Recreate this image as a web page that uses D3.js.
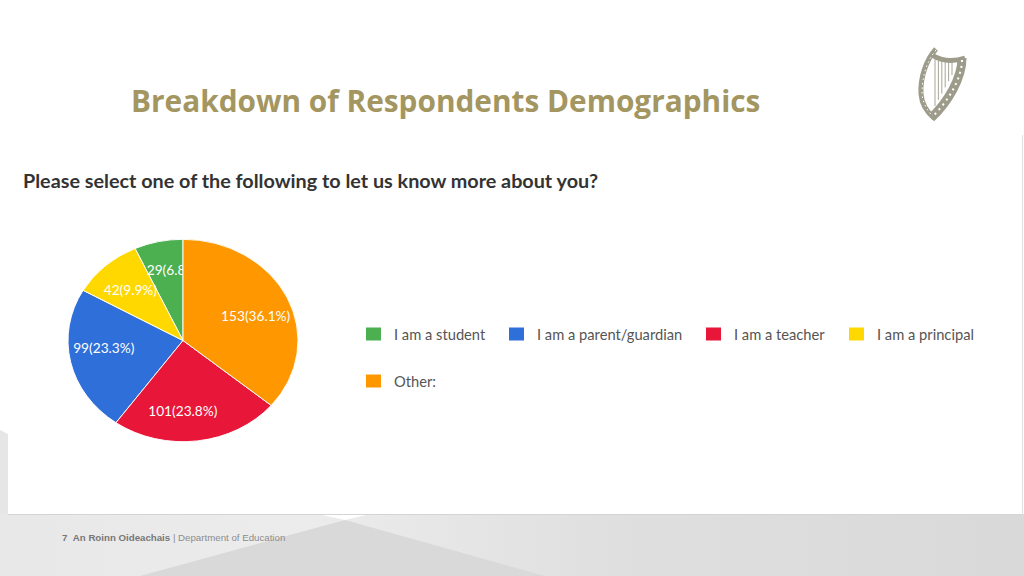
<!DOCTYPE html>
<html>
<head>
<meta charset="utf-8">
<script src="https://cdn.jsdelivr.net/npm/d3@7"></script>
<style>
  html, body { margin: 0; padding: 0; background: #fff; }
  svg { display: block; }
</style>
</head>
<body>
<div id="chart"></div>
<script>
// values
const categories = ["I am a student", "I am a parent/guardian", "I am a teacher", "I am a principal", "Other:"];
const counts = [29, 99, 101, 42, 153];
const percents = ["6.8", "23.3", "23.8", "9.9", "36.1"];
const colors = ["#4caf50", "#2e6fd9", "#e8173a", "#ffd800", "#ff9800"];

const width = 1024, height = 576;

const svg = d3.select("#chart").append("svg")
  .attr("width", width)
  .attr("height", height);

// slide background
const grad = svg.append("defs").append("linearGradient").attr("id", "footerBg");
grad.append("stop").attr("offset", "0%").attr("stop-color", "#e8e8e8");
grad.append("stop").attr("offset", "30%").attr("stop-color", "#ececec");
grad.append("stop").attr("offset", "60%").attr("stop-color", "#dfdfdf");
grad.append("stop").attr("offset", "100%").attr("stop-color", "#d9d9d9");

svg.append("rect").attr("width", width).attr("height", height).attr("fill", "#fff");
svg.append("polygon").attr("points", "0,430 8,434 8,520 0,520").attr("fill", "#e6e6e6");
svg.append("rect").attr("x", 0).attr("y", 514).attr("width", width).attr("height", 62).attr("fill", "url(#footerBg)");
svg.append("polygon").attr("points", "140,576 345,520 545,576").attr("fill", "#d9d9d9");
svg.append("polygon").attr("points", "322,515 366,515 345,520").attr("fill", "#fff");
svg.append("rect").attr("x", 8).attr("y", 514).attr("width", 1015).attr("height", 1).attr("fill", "#d4d4d4");
svg.append("rect").attr("x", 1022).attr("y", 135).attr("width", 1).attr("height", 380).attr("fill", "#e2e2e2");

svg.append("text")
  .attr("x", 131).attr("y", 112)
  .attr("font-family", "Open Sans")
  .attr("font-weight", 700)
  .attr("font-size", 29.8)
  .attr("fill", "#a39660")
  .text("Breakdown of Respondents Demographics");

// screenshot is stretched sideways, hence textLength
svg.append("text")
  .attr("x", 23).attr("y", 188)
  .attr("font-family", "Lato")
  .attr("font-weight", 700)
  .attr("font-size", 18.6)
  .attr("textLength", 575)
  .attr("lengthAdjust", "spacingAndGlyphs")
  .attr("fill", "#333")
  .text("Please select one of the following to let us know more about you?");

// pie is squashed a bit in the screenshot
const radius = 115;
const squash = 0.88;
const pieGroup = svg.append("g")
  .attr("transform", `translate(183,340.5) scale(1,${squash})`);

const pie = d3.pie().value(d => d.count).sort((a, b) => d3.descending(a.count, b.count));
const arc = d3.arc().innerRadius(0).outerRadius(radius);
const labelArc = d3.arc().innerRadius(78).outerRadius(78);

const rows = categories.map((name, i) => ({name, count: counts[i], pct: percents[i], color: colors[i]}));
const arcs = pie(rows).sort((a, b) => d3.ascending(categories.indexOf(a.data.name), categories.indexOf(b.data.name)));

const paths = pieGroup.selectAll("path")
  .data(arcs)
  .join("path")
  .attr("d", arc)
  .attr("fill", d => d.data.color)
  .attr("stroke", "#fff")
  .attr("stroke-width", 1);

// small hand nudges off the centroid, same order as categories
const nudgeX = [7, -3, -10, 0, 2];
const nudgeY = [-3, -7, 3, 0, 5];

const labels = pieGroup.selectAll("text")
  .data(arcs)
  .join("text")
  .attr("transform", (d, i) => {
    const c = labelArc.centroid(d);
    return `translate(${c[0] + nudgeX[i]},${c[1] + nudgeY[i] / squash}) scale(1,${1 / squash})`;
  })
  .attr("text-anchor", "middle")
  .attr("dy", "0.35em")
  .attr("font-family", "Lato")
  .attr("font-size", 13.7)
  .attr("fill", "#fff")
  .text(d => `${d.data.count}(${d.data.pct}%)`);

// the orange slice sits on top and cuts off the student label
paths.filter(d => d.data.name === "Other:").raise();
labels.filter(d => d.data.name === "Other:").raise();

// legend
const legendX = [366, 509, 706, 849, 366];
const legendY = [334, 334, 334, 334, 381];

categories.forEach((name, i) => {
  svg.append("rect")
    .attr("x", legendX[i]).attr("y", legendY[i] - 6.5)
    .attr("width", 15).attr("height", 13)
    .attr("fill", colors[i]);
  svg.append("text")
    .attr("x", legendX[i] + 28).attr("y", legendY[i] + 5.5)
    .attr("font-family", "Lato")
    .attr("font-size", 14.7)
    .attr("fill", "#555")
    .text(name);
});

// footer
const footer = svg.append("text")
  .attr("x", 62).attr("y", 541)
  .attr("font-family", "Liberation Sans")
  .attr("font-size", 9.7);
footer.append("tspan").attr("font-weight", 700).attr("fill", "#777").text("7\u00a0\u00a0An Roinn Oideachais");
footer.append("tspan").attr("fill", "#8c8c8c").text(" | Department of Education");

// harp emblem, rough
const harpColor = "#9d9c8a";
const harp = svg.append("g").attr("fill", "none").attr("stroke", harpColor);
harp.append("path")
  .attr("d", "M936,49 C926,60 920,78 921,94 C922,106 928,113 934,118")
  .attr("stroke-width", 5);
harp.append("path")
  .attr("d", "M932,55 C943,62 953,62 965,58")
  .attr("stroke-width", 5);
harp.append("path")
  .attr("d", "M962,58 C962,78 948,102 931,118")
  .attr("stroke-width", 9);
harp.append("path")
  .attr("d", "M962,60 C962,78 948,102 932,117")
  .attr("stroke", "#fff")
  .attr("stroke-width", 2)
  .attr("stroke-dasharray", "2 4");
harp.append("path")
  .attr("d", "M936,50 C926,62 922,78 922,94 C923,104 928,112 933,116")
  .attr("stroke", "#fff")
  .attr("stroke-width", 1)
  .attr("stroke-dasharray", "1.5 3");
harp.append("g").attr("stroke-width", 0.9)
  .selectAll("line")
  .data(d3.range(6))
  .join("line")
  .attr("x1", d => 935 + d * 3.4).attr("y1", d => 58 + d)
  .attr("x2", d => 935 + d * 3.4).attr("y2", d => 106 - d * 6.2);
</script>
</body>
</html>
